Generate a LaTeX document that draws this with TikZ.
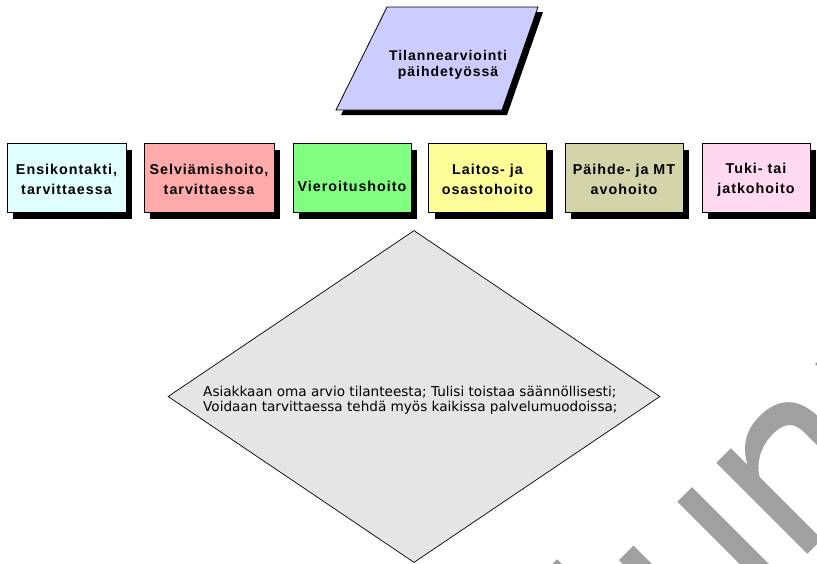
\documentclass[tikz,border=0pt]{standalone}
\usepackage{fontspec}
\setmainfont{DejaVu Sans}
\newfontfamily\lblfont[LetterSpace=7]{Liberation Sans}
\usetikzlibrary{shapes.geometric,shadows}

\definecolor{cyanbox}{RGB}{224,255,255}
\definecolor{pinkbox}{RGB}{255,170,170}
\definecolor{greenbox}{RGB}{128,255,128}
\definecolor{yellowbox}{RGB}{255,255,153}
\definecolor{khakibox}{RGB}{212,212,170}
\definecolor{rosebox}{RGB}{255,217,240}
\definecolor{lavender}{RGB}{204,204,255}
\definecolor{panelgray}{RGB}{229,229,229}
\definecolor{markgray}{RGB}{160,160,160}

\begin{document}
\begin{tikzpicture}[x=1pt,y=-1pt,
  stepbox/.style={draw=black, line width=0.8pt, minimum height=69pt,
    inner sep=0pt,
    drop shadow={shadow xshift=6pt, shadow yshift=-7pt, fill=black, opacity=1}},
  steplabel/.style={align=center, inner sep=0pt,
    font=\lblfont\bfseries\fontsize{14.3}{20}\selectfont},
  titletext/.style={align=center, inner sep=0pt,
    font=\lblfont\bfseries\fontsize{14}{16}\selectfont},
  assessbox/.style={diamond, draw=black, line width=0.7pt, fill=panelgray,
    minimum width=492pt, minimum height=332pt, aspect=1.48, inner sep=0pt},
  assesstext/.style={align=left, inner sep=0pt, font=\fontsize{13.6}{15}\selectfont},
  lettermark/.style={fill=markgray}
]
\useasboundingbox (0,0) rectangle (817,563);

% title parallelogram with its shadow
\fill[black] (392,12) -- (543,12) -- (507,115) -- (341,115) -- cycle;
\draw[black, line width=0.8pt, fill=lavender] (387,7) -- (538,7) -- (502,110) -- (336,110) -- cycle;
\node[titletext] (title) at (448,65) {Tilannearviointi\\päihdetyössä};

% service forms
\node[stepbox, fill=cyanbox,   minimum width=119pt] (b1) at (66.5,177.5) {};
\node[stepbox, fill=pinkbox,   minimum width=130pt] (b2) at (209,177.5) {};
\node[stepbox, fill=greenbox,  minimum width=118pt] (b3) at (352,177.5) {};
\node[stepbox, fill=yellowbox, minimum width=118pt] (b4) at (487.5,177.5) {};
\node[stepbox, fill=khakibox,  minimum width=118pt] (b5) at (624,177.5) {};
\node[stepbox, fill=rosebox,   minimum width=108pt] (b6) at (756,177.5) {};

\node[steplabel, yshift=-2pt] (b1t) at (b1.center) {Ensikontakti,\\tarvittaessa};
\node[steplabel, yshift=-2pt] (b2t) at (b2.center) {Selviämishoito,\\tarvittaessa};
\node[steplabel, anchor=base] (b3t) at (b3.center |- 0,191.5) {Vieroitushoito};
\node[steplabel, yshift=-2pt] (b4t) at (b4.center) {Laitos- ja\\osastohoito};
\node[steplabel, yshift=-2pt] (b5t) at (b5.center) {Päihde- ja MT\\avohoito};
\node[steplabel, yshift=-2pt] (b6t) at (b6.center) {Tuki- tai\\jatkohoito};

% assessment diamond
\node[assessbox] (assess) at (414,396.5) {};
\node[assesstext, anchor=west] (assesst) at (203,400)
  {Asiakkaan oma arvio tilanteesta; Tulisi toistaa säännöllisesti;\\
   Voidaan tarvittaessa tehdä myös kaikissa palvelumuodoissa;};

% diagonal grey lettering in the lower right corner
\begin{scope}
\clip (0,0) rectangle (817,563);
\begin{scope}[shift={(680.5,680.5)}, rotate=45, y=1pt]
  \fill[lettermark] (-22.5,0) rectangle (-1.5,173);
  \fill[lettermark] (41.7,0) rectangle (62.2,128.7);
  \fill[lettermark] (124.2,0) rectangle (144.9,128.7);
  \fill[lettermark] (179.3,0) rectangle (199.8,128.7);
  \fill[lettermark] (263,0) rectangle (284,88);
  \fill[lettermark] (199.8,105) .. controls (210,124) and (225,131) .. (243,131)
     .. controls (268,131) and (284,118) .. (284,88) -- (263,88)
     .. controls (263,100) and (258,109) .. (240,109)
     .. controls (222,109) and (208,101) .. (199.8,88) -- cycle;
  \fill[lettermark] (319,0) rectangle (340,128.7);
\end{scope}
\end{scope}
\end{tikzpicture}
\end{document}
